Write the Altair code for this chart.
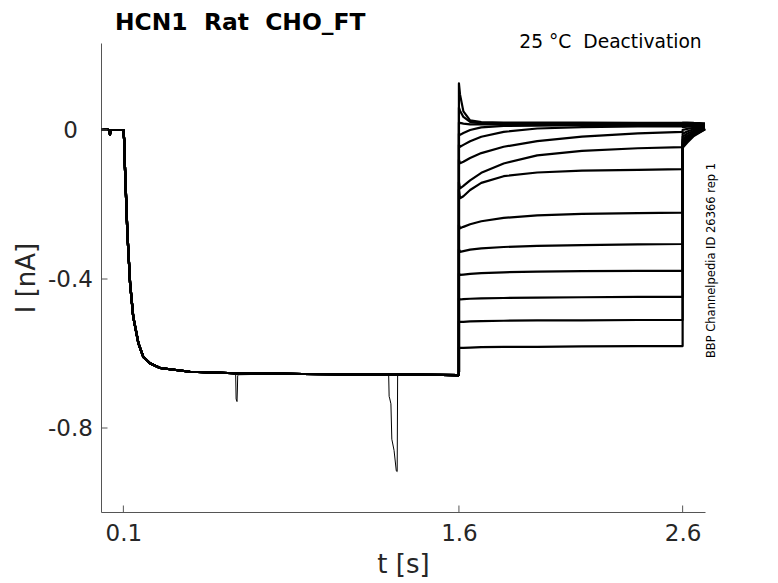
import altair as alt
import pandas as pd

# ---------------- data ----------------
# common part of every sweep (holding, then activating step)
t_pre = [0.0, 0.030, 0.038, 0.040, 0.043, 0.100, 0.104, 0.107, 0.118, 0.130,
         0.144, 0.167, 0.189, 0.219, 0.264, 0.398, 0.600, 0.900, 1.200, 1.450, 1.600]
i_pre = [0.000, 0.001, -0.001, -0.012, 0.000, 0.000, -0.030, -0.099, -0.277, -0.411,
         -0.501, -0.572, -0.609, -0.626, -0.639, -0.649, -0.653, -0.655, -0.656, -0.657, -0.658]

# tail step (deactivation) for each sweep
t_step = [1.600, 1.605, 1.620, 1.650, 1.700, 1.800, 1.950, 2.150, 2.400, 2.600]
i_step = {
    "s01": [0.125, 0.095, 0.050, 0.026, 0.021, 0.020, 0.020, 0.020, 0.019, 0.019],
    "s02": [0.060, 0.052, 0.035, 0.022, 0.018, 0.017, 0.017, 0.017, 0.017, 0.017],
    "s03": [0.020, 0.019, 0.017, 0.015, 0.015, 0.015, 0.015, 0.015, 0.015, 0.015],
    "s04": [-0.010, -0.013, -0.008, 0.000, 0.007, 0.011, 0.012, 0.013, 0.013, 0.013],
    "s05": [-0.040, -0.045, -0.040, -0.030, -0.018, -0.005, 0.004, 0.008, 0.010, 0.010],
    "s06": [-0.080, -0.089, -0.085, -0.075, -0.062, -0.045, -0.030, -0.018, -0.009, -0.005],
    "s07": [-0.140, -0.157, -0.150, -0.135, -0.115, -0.090, -0.068, -0.056, -0.049, -0.046],
    "s08": [-0.160, -0.183, -0.178, -0.161, -0.142, -0.124, -0.114, -0.109, -0.107, -0.105],
    "s09": [-0.255, -0.264, -0.260, -0.253, -0.245, -0.236, -0.229, -0.225, -0.223, -0.222],
    "s10": [-0.320, -0.327, -0.325, -0.321, -0.318, -0.314, -0.311, -0.309, -0.307, -0.306],
    "s11": [-0.385, -0.389, -0.388, -0.386, -0.384, -0.382, -0.380, -0.379, -0.378, -0.378],
    "s12": [-0.452, -0.455, -0.454, -0.453, -0.452, -0.451, -0.450, -0.449, -0.448, -0.448],
    "s13": [-0.514, -0.515, -0.515, -0.514, -0.513, -0.512, -0.511, -0.511, -0.510, -0.510],
    "s14": [-0.584, -0.585, -0.585, -0.584, -0.583, -0.582, -0.582, -0.581, -0.580, -0.580],
}

# return to holding
t_tail = [2.600, 2.620, 2.650, 2.700]
i_tail = {
    "s01": [0.020, 0.020, 0.019, 0.018],
    "s02": [0.018, 0.018, 0.017, 0.016],
    "s03": [0.016, 0.016, 0.015, 0.014],
    "s04": [0.013, 0.013, 0.012, 0.012],
    "s05": [0.008, 0.009, 0.010, 0.010],
    "s06": [0.000, 0.003, 0.006, 0.008],
    "s07": [-0.010, -0.004, 0.002, 0.006],
    "s08": [-0.018, -0.010, -0.002, 0.005],
    "s09": [-0.025, -0.016, -0.006, 0.004],
    "s10": [-0.030, -0.020, -0.008, 0.004],
    "s11": [-0.035, -0.024, -0.010, 0.003],
    "s12": [-0.040, -0.028, -0.012, 0.003],
    "s13": [-0.044, -0.031, -0.014, 0.002],
    "s14": [-0.048, -0.034, -0.016, 0.002],
}

# transient artefacts on one sweep
t_art = [0.590, 0.602, 0.604, 0.608, 0.610, 0.611, 0.615, 0.700,
         1.280, 1.286, 1.288, 1.291, 1.296, 1.300, 1.310, 1.320, 1.324, 1.326, 1.330]
i_art = [-0.655, -0.657, -0.722, -0.729, -0.690, -0.660, -0.657, -0.656,
         -0.657, -0.659, -0.715, -0.722, -0.735, -0.830, -0.860, -0.915, -0.917, -0.660, -0.658]

x_ticks = [0.1, 1.6, 2.6]
y_ticks = [0.0, -0.4, -0.8]

title_text = "HCN1\u00a0 Rat\u00a0 CHO_FT"
subtitle_text = "25 °C\u00a0 Deactivation"
side_text = "BBP Channelpedia ID 26366 rep 1"

# ---------------- build tables ----------------
rows = []
for name in i_step:
    k = 0
    for t, v in zip(t_pre, i_pre):
        rows.append({"t": t, "I": v, "trace": name, "idx": k}); k += 1
    for t, v in zip(t_step, i_step[name]):
        rows.append({"t": t, "I": v, "trace": name, "idx": k}); k += 1
    for t, v in zip(t_tail, i_tail[name]):
        rows.append({"t": t, "I": v, "trace": name, "idx": k}); k += 1
df = pd.DataFrame(rows)
df_art = pd.DataFrame({"t": t_art, "I": i_art, "idx": list(range(len(t_art)))})
df_xt = pd.DataFrame({"t": x_ticks})
df_yt = pd.DataFrame({"I": y_ticks})

W, H = 604, 469
FONT = "DejaVu Sans"
AX = "#555555"
TXT = "#262626"

xscale = alt.Scale(domain=[0, 2.7], nice=False, zero=False)
yscale = alt.Scale(domain=[-1.0255, 0.2336], nice=False, zero=False)

xaxis = alt.Axis(values=x_ticks, format=".1f", title="t [s]", grid=False, ticks=False,
                 domainColor=AX, domainWidth=1, labelFont=FONT, labelFontSize=23,
                 labelColor=TXT, labelPadding=10, titleFont=FONT, titleFontSize=26,
                 titleFontWeight="normal", titleColor=TXT, titlePadding=6, labelFlush=False)
yaxis = alt.Axis(values=y_ticks, title="I [nA]", grid=False, ticks=False,
                 labelExpr="datum.value == 0 ? '0' : (datum.value < 0 ? '-' + format(-datum.value, '.1f') : format(datum.value, '.1f'))",
                 labelAlign="center", labelPadding=31,
                 domainColor=AX, domainWidth=1, labelFont=FONT, labelFontSize=23,
                 labelColor=TXT, titleFont=FONT, titleFontSize=26,
                 titleFontWeight="normal", titleColor=TXT, titlePadding=8, labelFlush=False)

X = alt.X("t:Q", scale=xscale, axis=xaxis)
Y = alt.Y("I:Q", scale=yscale, axis=yaxis)

traces = alt.Chart(df).mark_line(color="black", strokeWidth=2.2, strokeJoin="round").encode(
    x=X, y=Y, detail="trace:N", order="idx:Q",
)

art = alt.Chart(df_art).mark_line(color="black", strokeWidth=1.0).encode(
    x=X, y=Y, order="idx:Q",
)

xt = alt.Chart(df_xt).mark_rule(color=AX, strokeWidth=1).encode(
    x=X, y=alt.value(H), y2=alt.value(H - 6.5),
)
yt = alt.Chart(df_yt).mark_rule(color=AX, strokeWidth=1).encode(
    y=Y, x=alt.value(0), x2=alt.value(6.5),
)

ttl = alt.Chart(pd.DataFrame({"label": [title_text]})).mark_text(
    align="left", baseline="alphabetic", font=FONT, fontSize=23.4, fontWeight="bold", color="black"
).encode(x=alt.value(14), y=alt.value(-13.5), text="label:N")

sub = alt.Chart(pd.DataFrame({"label": [subtitle_text]})).mark_text(
    align="right", baseline="alphabetic", font=FONT, fontSize=18.7, color="black"
).encode(x=alt.value(600.7), y=alt.value(4.7), text="label:N")

side = alt.Chart(pd.DataFrame({"label": [side_text]})).mark_text(
    align="center", baseline="middle", angle=270, font=FONT, fontSize=11.5, color="black"
).encode(x=alt.value(610.5), y=alt.value(217.5), text="label:N")

chart = alt.layer(traces, art, xt, yt, ttl, sub, side).properties(
    width=W, height=H,
    autosize=alt.AutoSizeParams(type="none"),
    padding={"left": 93, "top": 35, "right": 65, "bottom": 70},
).configure_view(strokeWidth=0, fill="white")

chart.save("out.html", embed_options={"renderer": "svg", "actions": False})
